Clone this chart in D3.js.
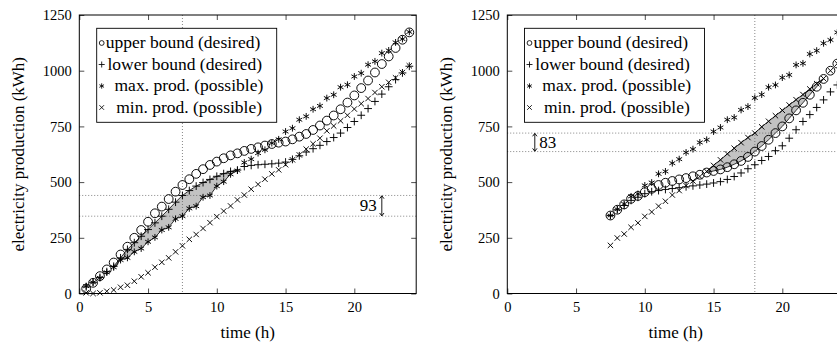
<!DOCTYPE html>
<html><head><meta charset="utf-8">
<script src="https://cdn.jsdelivr.net/npm/d3@7"></script>
<style>
body{margin:0;background:#fff}
svg{display:block}
text{font-family:"Liberation Serif","DejaVu Serif",serif;fill:#000}
</style>
</head><body>
<svg id="c" width="837" height="345"></svg>
<script>
// ---------- data ----------
const hoursL = [0.5,1,1.5,2,2.5,3,3.5,4,4.5,5,5.5,6,6.5,7,7.5,8,8.5,9,9.5,10,10.5,11,11.5,12,12.5,13,13.5,14,14.5,15,15.5,16,16.5,17,17.5,18,18.5,19,19.5,20,20.5,21,21.5,22,22.5,23,23.5,24];
const upperL = [22,48,78,108,139,175,210,250,285,322,360,390,424,457,487,513,537,558,577,592,607,620,629,640,649,656,664,671,677,682,692,704,716,734,754,776,799,827,857,889,922,956,992,1030,1064,1102,1139,1172];
const lowerL = [30,50,72,98,122,160,198,228,257,287,317,347,378,410,440,462,482,498,512,526,538,548,554,570,575,578,580,582,585,590,602,618,635,650,665,682,700,720,745,772,800,830,862,895,928,960,990,1020];
const maxL   = [33,50,70,95,118,150,160,187,202,232,252,285,297,335,347,382,392,432,440,482,502,535,552,588,603,630,645,675,692,727,742,780,795,827,842,877,892,926,937,974,989,1027,1042,1079,1091,1127,1142,1174];
const minL   = [3,0,3,10,16,28,37,55,75,93,118,140,160,187,214,243,265,292,318,345,370,393,420,442,468,490,513,537,555,578,600,622,648,672,697,730,752,775,800,828,852,875,902,928,948,968,992,1022];

const hoursR = [7.5,8,8.5,9,9.5,10,10.5,11,11.5,12,12.5,13,13.5,14,14.5,15,15.5,16,16.5,17,17.5,18,18.5,19,19.5,20,20.5,21,21.5,22,22.5,23,23.5,24];
const upperR = [350,376,400,425,438,455,470,487,497,505,512,518,526,533,543,550,557,567,580,595,613,637,662,690,720,750,786,822,856,892,928,963,1000,1032];
const lowerR = [350,376,395,418,432,448,457,462,467,471,475,479,483,487,491,496,502,512,525,541,560,578,597,615,641,663,697,735,772,803,835,869,905,936];
const maxR   = [350,378,402,436,447,485,498,537,548,585,603,633,648,678,690,727,745,780,790,824,839,878,893,926,936,969,981,1026,1033,1075,1090,1123,1138,1172];
const minR   = [216,249,267,297,317,346,366,392,414,442,462,484,505,525,548,575,600,627,652,677,700,720,748,773,798,822,846,870,893,918,942,965,1000,1032];

const xTicks = [0,5,10,15,20];
const yTicks = [0,250,500,750,1000,1250];
const legendLabels = ["upper bound (desired)","lower bound (desired)","max. prod. (possible)","min. prod. (possible)"];
const xLabel = "time (h)";
const yLabel = "electricity production (kWh)";

// fill (infeasible gap) ranges and annotations
const fillL = [2.5, 11.5];   // between lower bound (top) and max prod (bottom)
const fillR = [14.5, 23];    // between min prod (top) and upper bound (bottom)
const vLineL = 7.5, hLinesL = [440, 347], gapLabelL = "93", gapXL = 22;
const vLineR = 18,  hLinesR = [720, 637], gapLabelR = "83", gapXR = 2;

// ---------- layout ----------
const FONT = '"Liberation Serif","DejaVu Serif",serif';
const svg = d3.select("#c");
const yTop = 15, yBot = 293.5, plotW = 336.9;

function mark(g, type, x, y, s, w) {
  if (type === "o") {
    g.append("circle").attr("cx", x).attr("cy", y).attr("r", s)
      .attr("fill", "none").attr("stroke", "#000").attr("stroke-width", w);
    return;
  }
  let d;
  if (type === "+") d = `M${x-s},${y}H${x+s}M${x},${y-s}V${y+s}`;
  else if (type === "x") d = `M${x-s},${y-s}L${x+s},${y+s}M${x-s},${y+s}L${x+s},${y-s}`;
  else { const c = s*Math.cos(Math.PI/6), h = s*Math.sin(Math.PI/6);
    d = `M${x},${y-s}V${y+s}M${x-c},${y-h}L${x+c},${y+h}M${x-c},${y+h}L${x+c},${y-h}`; }
  g.append("path").attr("d", d).attr("stroke", "#000").attr("stroke-width", w).attr("fill", "none");
}
const plotSize = {o:4.4, "+":3.9, "*":3.4, x:2.7};
const legSize  = {o:2.4, "+":3.0, "*":2.7, x:2.3};

function panel(cfg) {
  const x = d3.scaleLinear().domain([0, 24.5]).range([cfg.x0, cfg.x0 + plotW]);
  const y = d3.scaleLinear().domain([0, 1250]).range([yBot, yTop]);
  const g = svg.append("g").style("font-family", FONT);

  // fill region
  const fd = cfg.hours.map((h, i) => ({h, top: cfg.fillTop[i], bot: cfg.fillBot[i]}))
    .filter(d => d.h >= cfg.fill[0] && d.h <= cfg.fill[1]);
  const area = d3.area().x(d => x(d.h)).y0(d => y(d.bot)).y1(d => y(d.top));
  g.append("path").datum(fd).attr("d", area).attr("fill", "#c2c2c2")
    .attr("stroke", "#000").attr("stroke-width", 0.8);

  // dotted guide lines
  const dot = sel => sel.attr("stroke", "#555").attr("stroke-width", 0.8).attr("stroke-dasharray", "0.9 2.1");
  g.append("line").attr("x1", x(cfg.vLine)).attr("x2", x(cfg.vLine)).attr("y1", yTop).attr("y2", yBot).call(dot);
  cfg.hLines.forEach(v => g.append("line").attr("x1", cfg.x0).attr("x2", cfg.x0 + plotW)
    .attr("y1", y(v)).attr("y2", y(v)).call(dot));

  // gap arrow
  const ax = x(cfg.gapX), a1 = y(cfg.hLines[0]), a2 = y(cfg.hLines[1]);
  g.append("path").attr("d", `M${ax},${a1+0.5}V${a2-0.5}M${ax-2.2},${a1+3.2}L${ax},${a1+0.3}L${ax+2.2},${a1+3.2}M${ax-2.2},${a2-3.2}L${ax},${a2-0.3}L${ax+2.2},${a2-3.2}`)
    .attr("stroke", "#000").attr("stroke-width", 0.9).attr("fill", "none");
  g.append("text").attr("x", cfg.gapLeft ? ax + 4.5 : ax - 5).attr("y", (a1 + a2)/2 + 5.5)
    .attr("text-anchor", cfg.gapLeft ? "start" : "end").style("font-size", "17px").text(cfg.gapLabel);

  // series marks
  const series = [["o", cfg.upper], ["+", cfg.lower], ["*", cfg.max], ["x", cfg.min]];
  series.forEach(([t, vals]) => vals.forEach((v, i) => mark(g, t, x(cfg.hours[i]), y(v), plotSize[t], 0.95)));

  // axes (inward ticks)
  const ax1 = g.append("g").attr("transform", `translate(0,${yBot})`)
    .call(d3.axisBottom(x).tickValues(xTicks).tickFormat(d3.format("d")).tickSizeInner(-5).tickSizeOuter(0).tickPadding(8.6));
  const ax2 = g.append("g").attr("transform", `translate(0,${yTop})`)
    .call(d3.axisTop(x).tickValues(xTicks).tickFormat("").tickSizeInner(-5).tickSizeOuter(0));
  const ax3 = g.append("g").attr("transform", `translate(${cfg.x0},0)`)
    .call(d3.axisLeft(y).tickValues(yTicks).tickFormat(d3.format("d")).tickSizeInner(-5).tickSizeOuter(0).tickPadding(7.6));
  const ax4 = g.append("g").attr("transform", `translate(${cfg.x0 + plotW},0)`)
    .call(d3.axisRight(y).tickValues(yTicks).tickFormat("").tickSizeInner(-5).tickSizeOuter(0));
  [ax1, ax2, ax3, ax4].forEach(a => {
    a.attr("font-family", null).attr("font-size", null);
    a.select(".domain").remove();
    a.selectAll(".tick line").attr("stroke", "#000").attr("stroke-width", 0.7);
    a.selectAll(".tick text").style("font-family", FONT).style("font-size", "14.5px").attr("fill", "#000");
  });
  g.append("rect").attr("x", cfg.x0).attr("y", yTop).attr("width", plotW).attr("height", yBot - yTop)
    .attr("fill", "none").attr("stroke", "#000").attr("stroke-width", 1);

  // axis labels
  g.append("text").attr("x", cfg.x0 + plotW/2).attr("y", 337.5).attr("text-anchor", "middle")
    .style("font-size", "17px").text(xLabel);
  g.append("text").attr("transform", `translate(${cfg.x0 - 55.8},${(yTop + yBot)/2}) rotate(-90)`)
    .attr("text-anchor", "middle").style("font-size", "17px").text(yLabel);

  // legend
  const lx = cfg.legX, ly = 28.3, lw = 180, lh = 94;
  g.append("rect").attr("x", lx).attr("y", ly).attr("width", lw).attr("height", lh)
    .attr("fill", "#fff").attr("stroke", "#000").attr("stroke-width", 0.9);
  const types = ["o", "+", "*", "x"], textOff = [9, 10.8, 17.8, 19.5];
  legendLabels.forEach((lab, i) => {
    const cy = 43 + i*21.5;
    mark(g, types[i], lx + 5, cy, legSize[types[i]], 0.85);
    g.append("text").attr("x", lx + textOff[i]).attr("y", cy + 5).style("font-size", "17.5px").text(lab);
  });
}

panel({x0: 79.3, hours: hoursL, upper: upperL, lower: lowerL, max: maxL, min: minL,
  fill: fillL, fillTop: lowerL, fillBot: maxL, vLine: vLineL, hLines: hLinesL,
  gapX: gapXL, gapLabel: gapLabelL, gapLeft: false, legX: 96.7});
panel({x0: 507.3, hours: hoursR, upper: upperR, lower: lowerR, max: maxR, min: minR,
  fill: fillR, fillTop: minR, fillBot: upperR, vLine: vLineR, hLines: hLinesR,
  gapX: gapXR, gapLabel: gapLabelR, gapLeft: true, legX: 524.5});
</script>
</body></html>
